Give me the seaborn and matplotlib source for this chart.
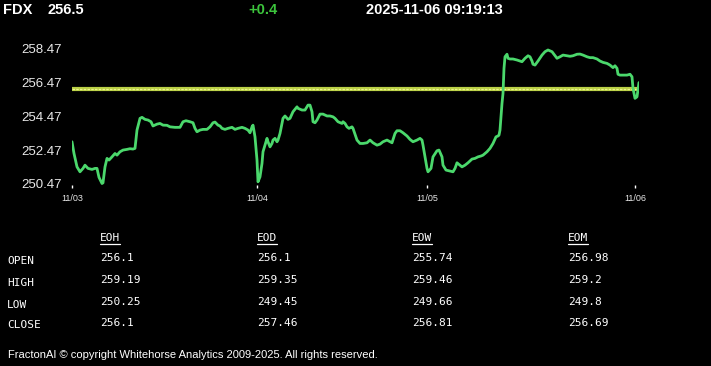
import matplotlib
matplotlib.use("Agg")
import matplotlib.pyplot as plt
from matplotlib.lines import Line2D
import seaborn as sns
import pandas as pd

# ---- data ----
symbol = "FDX"
last_price = "256.5"
change = "+0.4"
timestamp = "2025-11-06 09:19:13"

t = [0, 2, 5, 8, 11, 13, 16, 20, 23, 25, 27, 30, 31, 33, 35, 37, 40, 43, 45, 48,
     51, 55, 58, 61, 63, 65, 68, 70, 73, 76, 79, 81, 85, 88, 91, 95, 98, 103, 108, 111,
     114, 118, 121, 123, 125, 128, 131, 135, 138, 141, 143, 146, 148, 150, 153, 156, 160, 163, 166, 170,
     173, 176, 178, 180, 181, 183, 185, 186, 188, 190, 191, 195, 196, 198, 200, 201, 203, 205, 206, 208,
     211, 213, 216, 218, 221, 225, 226, 230, 233, 236, 238, 240, 241, 243, 245, 248, 251, 255, 258, 261,
     263, 266, 270, 271, 273, 275, 277, 280, 281, 285, 288, 291, 295, 298, 301, 305, 308, 311, 315, 318,
     320, 323, 325, 328, 331, 335, 338, 341, 345, 348, 350, 351, 353, 355, 356, 359, 361, 365, 367, 370,
     371, 374, 378, 381, 383, 385, 388, 390, 393, 396, 400, 403, 406, 409, 411, 415, 418, 421, 424, 426,
     427, 428, 429, 430, 431, 432, 433, 435, 436, 438, 441, 445, 448, 450, 453, 456, 458, 460, 461, 463,
     466, 470, 473, 476, 480, 483, 485, 488, 491, 495, 498, 501, 505, 508, 511, 515, 518, 521, 525, 528,
     531, 535, 538, 541, 543, 545, 546, 548, 551, 555, 558, 560, 561, 563, 565, 566, 567]
price = [252.96, 252.27, 251.48, 251.19, 251.39, 251.58, 251.39, 251.33, 251.39, 251.39,
         250.86, 250.50, 250.54, 251.48, 251.98, 251.88, 252.07, 252.27, 252.17, 252.37,
         252.47, 252.51, 252.55, 252.53, 252.57, 253.65, 254.34, 254.40, 254.28, 254.24,
         254.14, 253.89, 254.00, 254.04, 253.94, 253.93, 253.84, 253.81, 253.81, 254.14,
         254.20, 254.14, 254.08, 253.75, 253.55, 253.65, 253.69, 253.69, 253.84, 254.08,
         254.12, 253.94, 253.89, 253.75, 253.69, 253.75, 253.81, 253.69, 253.75, 253.81,
         253.75, 253.65, 253.49, 253.84, 253.94, 253.25, 251.88, 250.60, 250.89, 251.68,
         252.37, 253.16, 252.96, 252.66, 252.86, 253.06, 253.16, 252.96, 253.06, 253.45,
         254.34, 254.48, 254.28, 254.34, 254.73, 255.02, 254.93, 254.83, 254.83, 255.12,
         255.12, 254.73, 254.14, 254.08, 254.24, 254.59, 254.59, 254.48, 254.48, 254.43,
         254.34, 254.14, 254.04, 254.14, 254.04, 253.84, 253.75, 253.84, 253.75, 253.06,
         252.86, 252.86, 252.90, 253.06, 252.90, 252.76, 252.82, 252.96, 253.06, 252.96,
         252.90, 253.45, 253.61, 253.61, 253.49, 253.30, 253.10, 252.96, 253.06, 253.16,
         253.06, 252.76, 252.07, 251.39, 251.19, 251.39, 252.07, 252.43, 252.47, 252.07,
         251.58, 251.29, 251.23, 251.19, 251.39, 251.72, 251.58, 251.48, 251.58, 251.72,
         251.94, 251.98, 252.07, 252.12, 252.17, 252.37, 252.57, 252.86, 253.25, 253.30,
         253.35, 253.65, 254.43, 255.22, 255.81, 257.29, 257.97, 258.12, 257.88, 257.84,
         257.84, 257.78, 257.72, 257.68, 257.88, 258.03, 257.97, 257.72, 257.53, 257.48,
         257.72, 258.07, 258.27, 258.37, 258.27, 258.03, 257.88, 257.97, 258.07, 258.03,
         258.00, 258.03, 258.12, 258.13, 258.07, 257.97, 257.92, 257.92, 257.84, 257.72,
         257.64, 257.58, 257.48, 257.33, 257.44, 257.29, 256.94, 256.89, 256.89, 256.89,
         256.94, 256.79, 256.11, 255.52, 255.61, 256.01, 256.45]
ref_level = 256.1

y_ticks = [250.47, 252.47, 254.47, 256.47, 258.47]
x_tick_pos = [0, 185, 355, 563]
x_tick_labels = ["11/03", "11/04", "11/05", "11/06"]

table_cols = ["EOH", "EOD", "EOW", "EOM"]
table_rows = ["OPEN", "HIGH", "LOW", "CLOSE"]
open_vals = ["256.1", "256.1", "255.74", "256.98"]
high_vals = ["259.19", "259.35", "259.46", "259.2"]
low_vals = ["250.25", "249.45", "249.66", "249.8"]
close_vals = ["256.1", "257.46", "256.81", "256.69"]

footer = "FractonAI \u00a9 copyright Whitehorse Analytics 2009-2025. All rights reserved."

# ---- figure ----
sns.set_theme(style="dark")
plt.rcParams["font.family"] = ["Liberation Sans", "DejaVu Sans"]

W, H = 711, 366
fig = plt.figure(figsize=(W / 100, H / 100), dpi=100, facecolor="black")

ylo, yhi = 250.40, 258.70
px_per_unit = (184.0 - 48.3) / 8.0
bottom_px = 184.0 + (250.47 - ylo) * px_per_unit
top_px = 48.3 - (yhi - 258.47) * px_per_unit
ax = fig.add_axes([72 / W, 1 - bottom_px / H, (639 - 72) / W, (bottom_px - top_px) / H])
ax.set_facecolor("black")

ax.axhline(ref_level, color="#b9cf45", lw=3.0, zorder=2)
ax.axhline(ref_level, color="#eef58c", lw=0.9, ls=(0, (2, 1)), zorder=2)

df = pd.DataFrame({"t": t, "price": price})
sns.lineplot(data=df, x="t", y="price", ax=ax, color="#4bd86c", lw=2.0, zorder=3)

ax.set_xlim(0, 567)
ax.set_ylim(ylo, yhi)
ax.set_yticks(y_ticks)
ax.set_yticklabels([f"{v:.2f}" for v in y_ticks])
ax.set_xticks(x_tick_pos)
ax.set_xticklabels(x_tick_labels)
ax.tick_params(axis="y", length=0, pad=7, labelsize=9.5, labelcolor="#e8e8e8")
ax.tick_params(axis="x", direction="out", length=2.5, width=1, color="white",
               pad=4, labelsize=6.5, labelcolor="#e8e8e8", bottom=True)
ax.set_xlabel("")
ax.set_ylabel("")
ax.grid(False)
for s in ax.spines.values():
    s.set_visible(False)

# ---- header ----
hy = 1 - 9.5 / H
fig.text(3 / W, hy, symbol, color="white", fontsize=10.5, fontweight="bold", va="center")
fig.text(48 / W, hy, last_price, color="white", fontsize=10.5, fontweight="bold", va="center")
fig.text(248 / W, hy, change, color="#3cc43c", fontsize=10.5, fontweight="bold", va="center")
fig.text(366 / W, hy, timestamp, color="white", fontsize=10.5, fontweight="bold", va="center")

# ---- table ----
mono = ["DejaVu Sans Mono"]
col_x = [100, 257, 412, 568]
row_y = [259, 281, 303, 324]
vals = [open_vals, high_vals, low_vals, close_vals]
fig.canvas.draw()
renderer = fig.canvas.get_renderer()
for cx, name in zip(col_x, table_cols):
    txt = fig.text(cx / W, 1 - 238 / H, name, color="white", fontsize=8, family=mono, va="center")
    bb = txt.get_window_extent(renderer)
    fig.add_artist(Line2D([cx / W, (cx + bb.width) / W], [1 - 243.5 / H] * 2,
                          color="white", lw=0.9, transform=fig.transFigure))
for ry, rname, rv in zip(row_y, table_rows, vals):
    fig.text(7 / W, 1 - (ry + 1.5) / H, rname, color="white", fontsize=8, family=mono, va="center")
    for cx, v in zip(col_x, rv):
        fig.text(cx / W, 1 - (ry - 1) / H, v, color="white", fontsize=8, family=mono, va="center")

fig.text(8 / W, 1 - 355 / H, footer, color="white", fontsize=8, va="center")

fig.savefig("out.png", dpi=100, facecolor="black")
